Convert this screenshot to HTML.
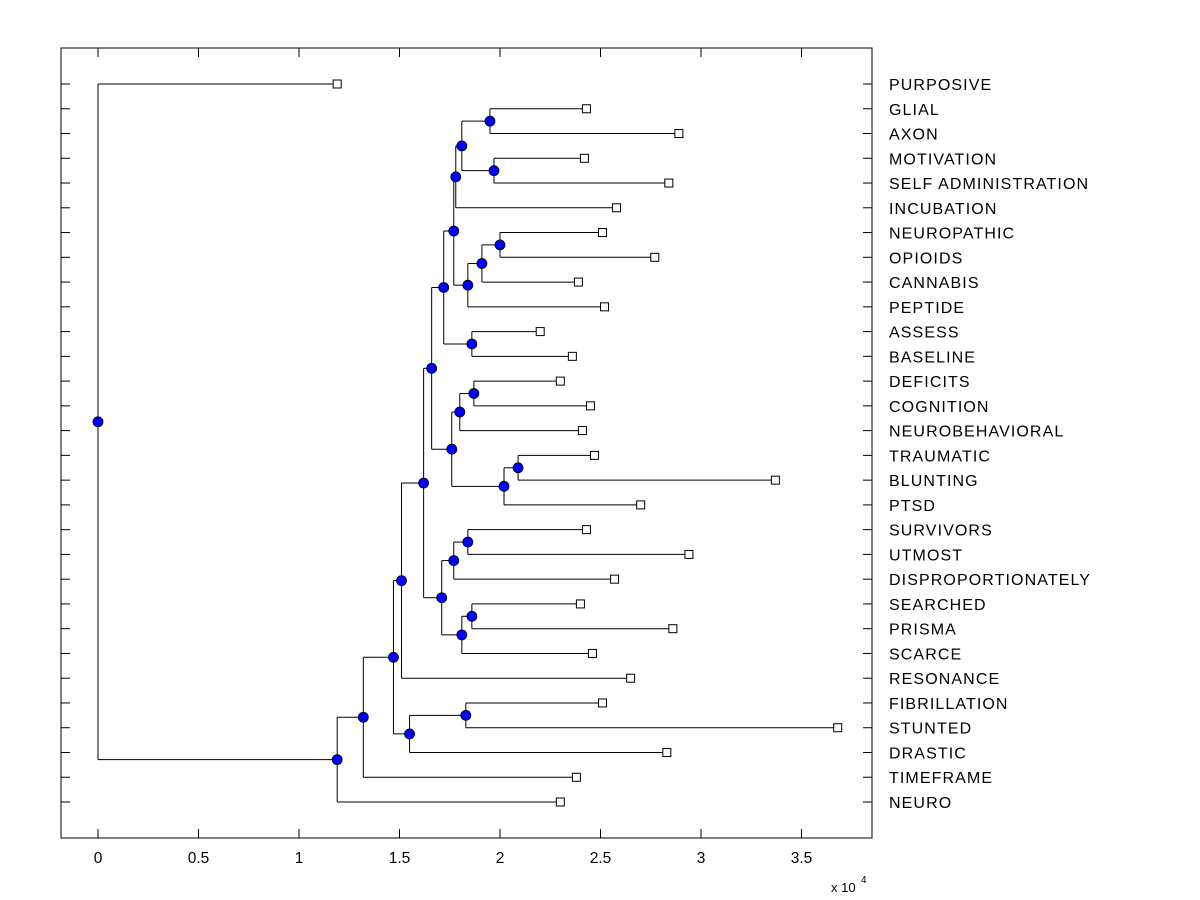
<!DOCTYPE html>
<html><head><meta charset="utf-8"><style>
body{margin:0;background:#fff;}
svg{display:block;font-family:"Liberation Sans",Arial,sans-serif;}
</style></head><body>
<svg id="chart" width="1200" height="900"></svg>
<script>
const labels=["PURPOSIVE","GLIAL","AXON","MOTIVATION","SELF ADMINISTRATION","INCUBATION","NEUROPATHIC","OPIOIDS","CANNABIS","PEPTIDE","ASSESS","BASELINE","DEFICITS","COGNITION","NEUROBEHAVIORAL","TRAUMATIC","BLUNTING","PTSD","SURVIVORS","UTMOST","DISPROPORTIONATELY","SEARCHED","PRISMA","SCARCE","RESONANCE","FIBRILLATION","STUNTED","DRASTIC","TIMEFRAME","NEURO"];
const leafValues=[1.19,2.43,2.89,2.42,2.84,2.58,2.51,2.77,2.39,2.52,2.20,2.36,2.30,2.45,2.41,2.47,3.37,2.70,2.43,2.94,2.57,2.40,2.86,2.46,2.65,2.51,3.68,2.83,2.38,2.30];
const nodeNames=["root","A","B","C","E","F","D","G","I","J","L","K","M","H","O","P","R","Q","S","N","U","T","W","X","Y","V","Z","AA","BB"];
const nodeValues=[0,1.19,1.32,1.47,1.55,1.83,1.51,1.62,1.71,1.77,1.84,1.81,1.86,1.66,1.76,1.80,1.87,2.02,2.09,1.72,1.86,1.77,1.84,1.91,2.00,1.78,1.81,1.95,1.97];
const nodeChildren=[[0,"A"],["B",29],["C",28],["D","E"],["F",27],[25,26],["G",24],["H","I"],["J","K"],["L",20],[18,19],["M",23],[21,22],["N","O"],["P","Q"],["R",14],[12,13],["S",17],[15,16],["T","U"],[10,11],["V","W"],["X",9],["Y",8],[6,7],["Z",5],["AA","BB"],[1,2],[3,4]];
const xTicks=[0,0.5,1,1.5,2,2.5,3,3.5];

const svg=document.getElementById('chart');
const NS='http://www.w3.org/2000/svg';
const L=61,R=872,T=48,B=838;
const xs=v=>98+v*201;
const ys=i=>84+i*(802-84)/29;
function mk(tag,attrs,parent){const e=document.createElementNS(NS,tag);for(const k in attrs)e.setAttribute(k,attrs[k]);(parent||svg).appendChild(e);return e;}

const box=mk('rect',{x:L,y:T,width:R-L,height:B-T,fill:'none',stroke:'#000','stroke-width':1});


xTicks.forEach(v=>{
  const x=xs(v);
  mk('line',{x1:x,y1:B,x2:x,y2:B-9,stroke:'#000'});
  mk('line',{x1:x,y1:T,x2:x,y2:T+9,stroke:'#000'});
  const t=mk('text',{x:x,y:B+25,'text-anchor':'middle','font-size':15.5});
  t.textContent=String(v);
  
  
});
const mult=mk('text',{x:831,y:892,'font-size':13});
mult.textContent='x 10';


const exp=mk('text',{x:861,y:883,'font-size':10});
exp.textContent='4';



labels.forEach((lab,i)=>{
  const y=ys(i);
  mk('line',{x1:L,y1:y,x2:L+9,y2:y,stroke:'#000'});
  mk('line',{x1:R,y1:y,x2:R-9,y2:y,stroke:'#000'});
  const t=mk('text',{x:889,y:y+6,'font-size':16,'letter-spacing':'1.1'});
  t.textContent=lab;
  
  
});

const pos={};
labels.forEach((l,i)=>{pos[i]={x:xs(leafValues[i]),y:ys(i)};});
function nodePos(name){
  if(typeof name==='number')return pos[name];
  if(pos[name])return pos[name];
  const k=nodeNames.indexOf(name);
  const ch=nodeChildren[k].map(nodePos);
  const p={x:xs(nodeValues[k]),y:(ch[0].y+ch[1].y)/2,ch:ch};
  pos[name]=p;return p;
}
nodeNames.forEach(nodePos);
const gl=mk('g',{});


nodeNames.forEach(n=>{
  const p=pos[n];
  const ys2=p.ch.map(c=>c.y);
  mk('line',{x1:p.x,y1:Math.min(...ys2),x2:p.x,y2:Math.max(...ys2),stroke:'#000'},gl);
  p.ch.forEach(c=>mk('line',{x1:p.x,y1:c.y,x2:c.x,y2:c.y,stroke:'#000'},gl));
});
labels.forEach((l,i)=>{
  const p=pos[i];
  const r=mk('rect',{x:p.x-4,y:p.y-4,width:8,height:8,fill:'#fff',stroke:'#000'});
  
  
});
nodeNames.forEach(n=>{
  const p=pos[n];
  const c=mk('circle',{cx:p.x,cy:p.y,r:5,fill:'#0000ff',stroke:'#000','stroke-width':0.8});
  
  
});
</script>
</body></html>
